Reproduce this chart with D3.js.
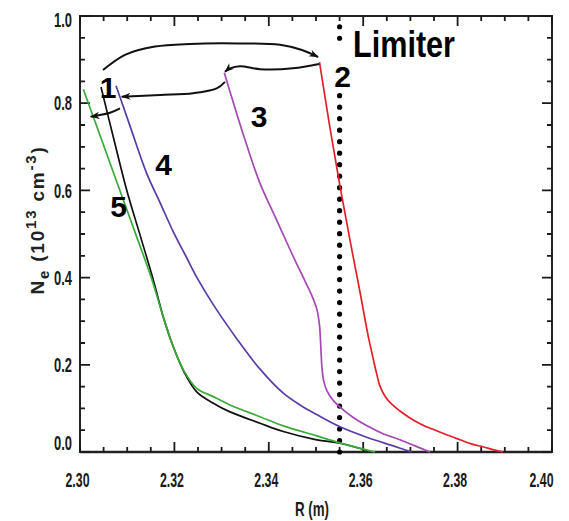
<!DOCTYPE html>
<html>
<head>
<meta charset="utf-8">
<script src="https://cdn.jsdelivr.net/npm/d3@7"></script>
<style>
body{margin:0;background:#fff;}
.tick text{font-family:"Liberation Sans",Arial,sans-serif;font-size:21px;font-weight:bold;fill:#1a1a1a;}
</style>
</head>
<body>
<div id="chart"></div>
<script>
// profiles: [R (m), Ne (1e13 cm^-3)]
const curve1 = [[2.30445,0.837],[2.3072,0.716],[2.30989,0.601],[2.31271,0.498],[2.31547,0.397],[2.31758,0.312],[2.3197,0.243],[2.32203,0.184],[2.32472,0.138],[2.32824,0.112],[2.33178,0.092],[2.33814,0.066],[2.34307,0.047],[2.35015,0.028],[2.35508,0.020],[2.36186,0.0]];
const curve2 = [[2.35074,0.894],[2.35297,0.743],[2.35508,0.610],[2.3572,0.486],[2.35932,0.367],[2.36102,0.268],[2.36208,0.216],[2.36282,0.181],[2.36356,0.151],[2.36462,0.128],[2.3661,0.109],[2.3678,0.094],[2.36992,0.078],[2.37203,0.065],[2.37479,0.052],[2.37754,0.040],[2.38051,0.028],[2.38305,0.018],[2.38538,0.012],[2.38771,0.005],[2.38962,0.0]];
const curve3 = [[2.33057,0.870],[2.33496,0.716],[2.33814,0.616],[2.34167,0.532],[2.34519,0.448],[2.34767,0.392],[2.34915,0.358],[2.35021,0.326],[2.35074,0.291],[2.35095,0.257],[2.3511,0.223],[2.35127,0.193],[2.35159,0.165],[2.35233,0.140],[2.3536,0.119],[2.35551,0.099],[2.35805,0.078],[2.36081,0.060],[2.36419,0.042],[2.3678,0.028],[2.37097,0.014],[2.37415,0.0]];
const curve4 = [[2.30763,0.840],[2.31059,0.748],[2.31413,0.639],[2.31695,0.572],[2.31977,0.505],[2.32225,0.453],[2.32472,0.401],[2.32824,0.338],[2.3332,0.260],[2.33814,0.190],[2.34307,0.135],[2.34661,0.108],[2.35015,0.086],[2.35508,0.058],[2.36074,0.034],[2.36638,0.014],[2.37028,0.0]];
const curve5 = [[2.3007,0.832],[2.30458,0.716],[2.30847,0.599],[2.31186,0.498],[2.31519,0.397],[2.31758,0.312],[2.3197,0.243],[2.32203,0.186],[2.32472,0.146],[2.32824,0.127],[2.33178,0.108],[2.33814,0.081],[2.34307,0.060],[2.35015,0.037],[2.35508,0.021],[2.3625,0.0]];
const curveNames = ["1","2","3","4","5"];
const curveColors = ["#111111","#e3202a","#a548b4","#5a3ca8","#3aaa38"];

const xTicks = [2.30,2.32,2.34,2.36,2.38,2.40];
const yTicks = [0.0,0.2,0.4,0.6,0.8,1.0];
const limiterR = 2.355;

// arrows between profiles (annotation paths in data units)
const arrowA = [[2.30487,0.876],[2.30953,0.911],[2.31589,0.930],[2.32331,0.936],[2.3339,0.937],[2.34237,0.934],[2.34703,0.922],[2.35042,0.906]];
const arrowB = [[2.3507,0.890],[2.34513,0.880],[2.33814,0.878],[2.3339,0.885],[2.33178,0.880],[2.33072,0.872]];
const arrowC = [[2.33072,0.849],[2.32896,0.834],[2.324,0.823],[2.31695,0.819],[2.30883,0.815]];
const arrowD = [[2.30847,0.788],[2.30636,0.778],[2.30227,0.769]];

const W = 569, H = 521;
const margin = {left:80, top:16, right:17, bottom:69};

const svg = d3.select("#chart").append("svg").attr("width", W).attr("height", H);

const x = d3.scaleLinear().domain([2.30, 2.40]).range([margin.left, W - margin.right]);
const y = d3.scaleLinear().domain([0, 1]).range([H - margin.bottom, margin.top]);

const xMinor = d3.range(2.30, 2.4001, 0.005).filter(v => !xTicks.some(t => Math.abs(t - v) < 1e-6));
const yMinor = d3.range(0, 1.0001, 0.05).filter(v => !yTicks.some(t => Math.abs(t - v) < 1e-6));

// frame
svg.append("rect")
    .attr("x", x(2.30)).attr("y", y(1))
    .attr("width", x(2.40) - x(2.30)).attr("height", y(0) - y(1))
    .attr("fill", "none").attr("stroke", "#222").attr("stroke-width", 2);
svg.append("line")
    .attr("x1", x(2.30)).attr("x2", x(2.40)).attr("y1", y(0)).attr("y2", y(0))
    .attr("stroke", "#222").attr("stroke-width", 2.6);

// tick labels from the axes
const gBottom = svg.append("g").attr("transform", "translate(0," + y(0) + ")")
    .call(d3.axisBottom(x).tickValues(xTicks).tickSize(0).tickPadding(20).tickFormat(d3.format(".2f")));
gBottom.selectAll(".tick text").attr("dx", -3)
    .attr("textLength", 24).attr("lengthAdjust", "spacingAndGlyphs");
gBottom.selectAll(".tick text").filter(d => d === 2.40).attr("dx", -11);

const gLeft = svg.append("g").attr("transform", "translate(" + x(2.30) + ",0)")
    .call(d3.axisLeft(y).tickValues(yTicks).tickSize(0).tickPadding(8).tickFormat(d3.format(".1f")));
gLeft.selectAll(".tick text").attr("textLength", 18).attr("lengthAdjust", "spacingAndGlyphs");
gLeft.selectAll(".tick text").filter(d => d === 0).attr("dy", "-0.1em");
gLeft.selectAll(".tick text").filter(d => d === 1).attr("dy", "0.5em");

svg.selectAll(".domain").remove();

// inward tick marks on all four sides
const xTickMarks = xTicks.map(v => ({v: v, len: 10})).concat(xMinor.map(v => ({v: v, len: 5})));
const yTickMarks = yTicks.map(v => ({v: v, len: 10})).concat(yMinor.map(v => ({v: v, len: 5})));
const tickPath = [];
xTickMarks.forEach(t => {
    tickPath.push("M" + x(t.v) + "," + y(0) + "v" + (-t.len));
    tickPath.push("M" + x(t.v) + "," + y(1) + "v" + t.len);
});
yTickMarks.forEach(t => {
    tickPath.push("M" + x(2.30) + "," + y(t.v) + "h" + t.len);
    tickPath.push("M" + x(2.40) + "," + y(t.v) + "h" + (-t.len));
});
svg.append("path")
    .attr("d", tickPath.join(""))
    .attr("fill", "none")
    .attr("stroke", "#1a1a1a")
    .attr("stroke-width", 1.8);

// limiter dots
const limiterDots = d3.range(38).map(i => i * 0.02636).filter(v => v < 0.83 || v > 0.94);
svg.selectAll(".dot").data(limiterDots).enter().append("circle")
    .attr("class", "dot")
    .attr("cx", x(limiterR)).attr("cy", d => y(d)).attr("r", 2.6).attr("fill", "#000");

// profiles
const line = d3.line().x(d => x(d[0])).y(d => y(d[1])).curve(d3.curveCatmullRom.alpha(0.5));
[curve1, curve2, curve3, curve4, curve5].forEach((c, i) => {
    svg.append("path").datum(c)
        .attr("d", line)
        .attr("fill", "none")
        .attr("stroke", curveColors[i])
        .attr("stroke-width", 1.7);
});

// arrows
svg.append("defs").append("marker")
    .attr("id", "head").attr("viewBox", "0 -5 12 10")
    .attr("refX", 11).attr("refY", 0)
    .attr("markerWidth", 10).attr("markerHeight", 8)
    .attr("markerUnits", "userSpaceOnUse")
    .attr("orient", "auto")
    .append("path").attr("d", "M0,-4.5L12,0L0,4.5L3.5,0Z").attr("fill", "#111");

const arrowLine = d3.line().x(d => x(d[0])).y(d => y(d[1])).curve(d3.curveCatmullRom);
[arrowA, arrowB, arrowC, arrowD].forEach(a => {
    svg.append("path").datum(a)
        .attr("d", arrowLine)
        .attr("fill", "none")
        .attr("stroke", "#111")
        .attr("stroke-width", 2)
        .attr("marker-end", "url(#head)");
});

// labels
const labelPos = [[108,98],[342.5,86.5],[259,126.5],[163.5,175],[118.5,216.5]];
svg.selectAll(".num").data(curveNames).enter().append("text")
    .attr("x", (d, i) => labelPos[i][0]).attr("y", (d, i) => labelPos[i][1])
    .attr("text-anchor", "middle")
    .style("font-family", "Liberation Sans, Arial, sans-serif")
    .style("font-weight", "bold").style("font-size", "30px")
    .text(d => d);

svg.append("text")
    .attr("x", 353).attr("y", 57)
    .attr("textLength", 102).attr("lengthAdjust", "spacingAndGlyphs")
    .style("font-family", "Liberation Sans, Arial, sans-serif")
    .style("font-weight", "bold").style("font-size", "36px")
    .text("Limiter");

svg.append("text")
    .attr("x", 295).attr("y", 516)
    .attr("textLength", 34).attr("lengthAdjust", "spacingAndGlyphs")
    .style("font-family", "Liberation Sans, Arial, sans-serif")
    .style("font-weight", "bold").style("font-size", "21px").style("fill", "#1a1a1a")
    .text("R (m)");

const yLab = svg.append("text")
    .attr("transform", "translate(44,220) rotate(-90)")
    .attr("text-anchor", "middle")
    .style("font-family", "Liberation Sans, Arial, sans-serif")
    .style("font-weight", "bold").style("font-size", "19px")
    .style("letter-spacing", "1.8px").style("fill", "#222");
yLab.append("tspan").text("N");
yLab.append("tspan").attr("dy", 5).style("font-size", "15px").text("e");
yLab.append("tspan").attr("dy", -5).text(" (10");
yLab.append("tspan").attr("dy", -8).style("font-size", "15px").text("13");
yLab.append("tspan").attr("dy", 8).text(" cm");
yLab.append("tspan").attr("dy", -8).style("font-size", "15px").text("-3");
yLab.append("tspan").attr("dy", 8).text(")");
</script>
</body>
</html>
